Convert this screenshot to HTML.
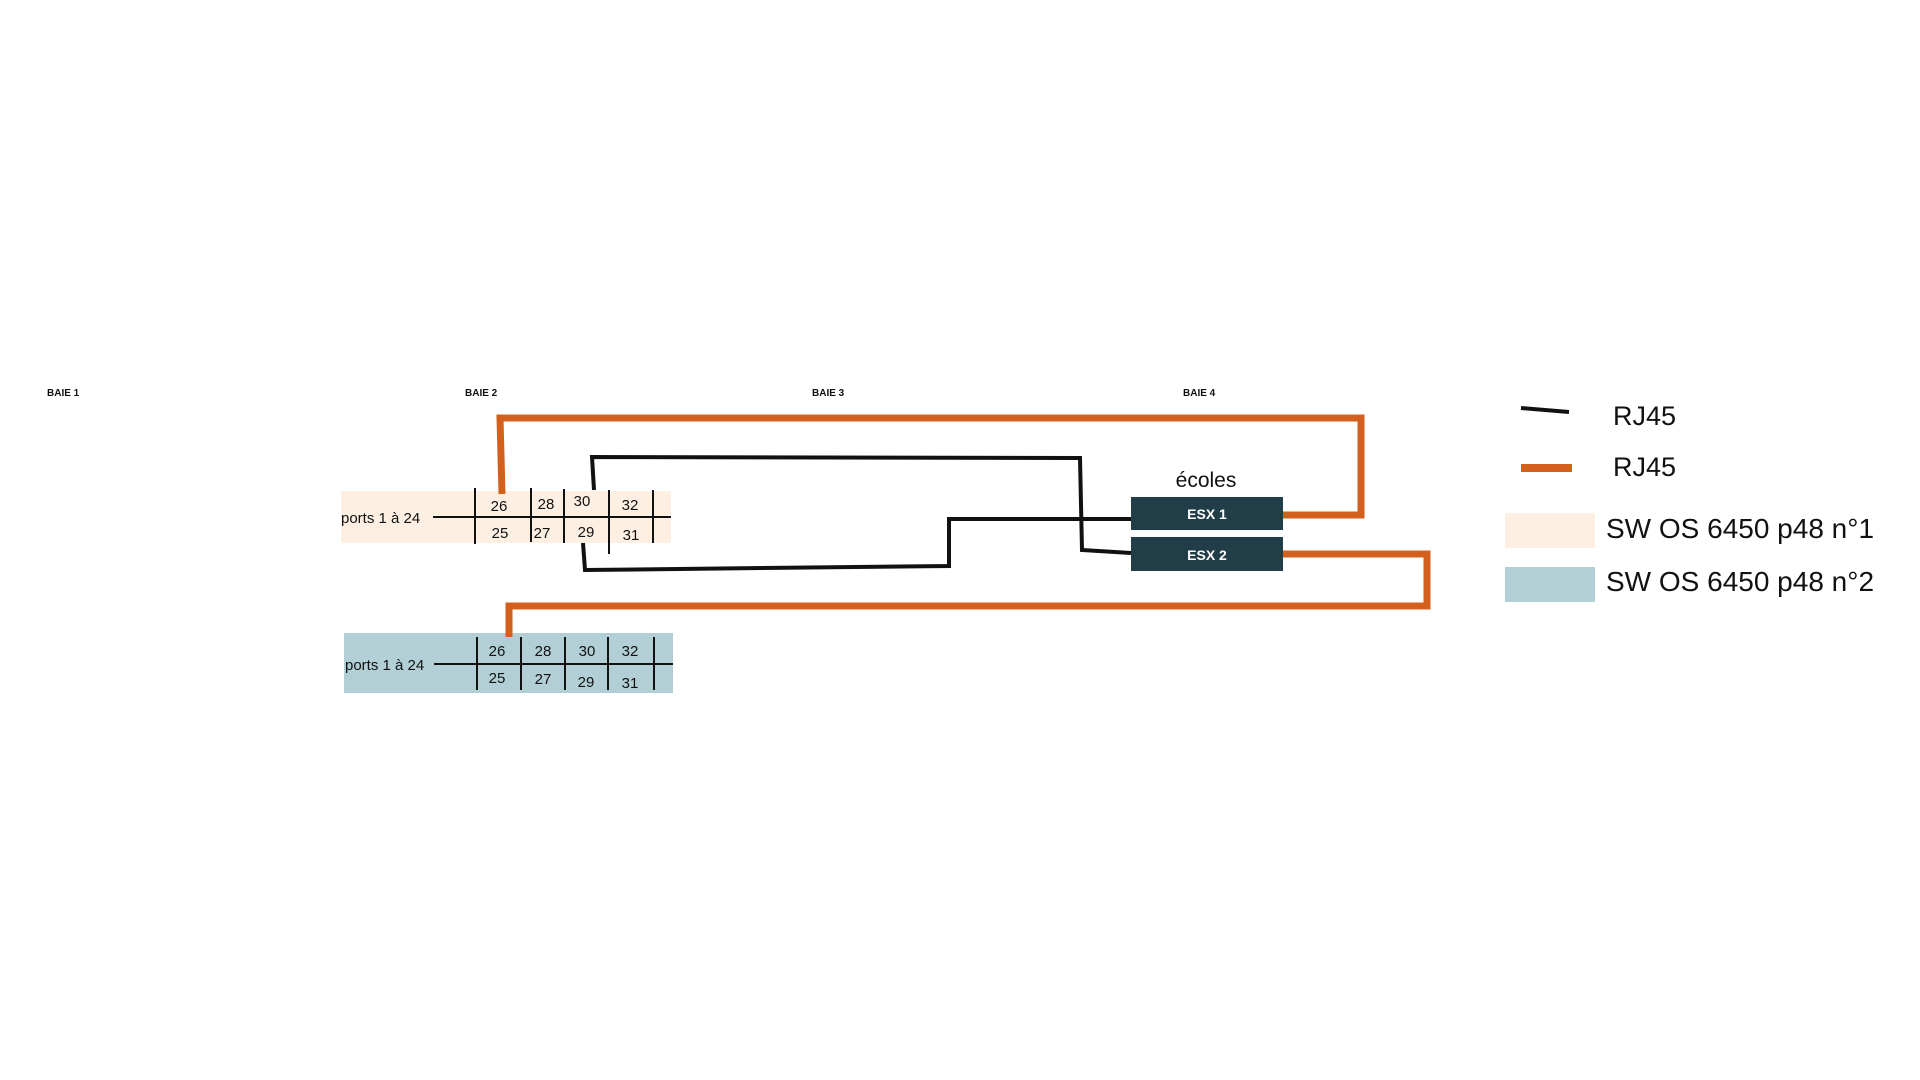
<!DOCTYPE html>
<html><head><meta charset="utf-8"><style>
html,body{margin:0;padding:0;background:#fff;width:1920px;height:1080px;overflow:hidden}
svg{display:block}
text{font-family:"Liberation Sans",sans-serif;fill:#111}
</style></head><body>
<svg width="1920" height="1080" viewBox="0 0 1920 1080">
<g font-size="10" font-weight="bold">
<text x="47" y="396">BAIE 1</text>
<text x="465" y="396">BAIE 2</text>
<text x="812" y="396">BAIE 3</text>
<text x="1183" y="396">BAIE 4</text>
</g>
<!-- switch 1 -->
<rect x="341" y="491" width="330" height="52" fill="#fdf0e2"/>
<text x="341" y="523" font-size="15">ports 1 à 24</text>
<g stroke="#111" stroke-width="2">
<line x1="433" y1="517" x2="671" y2="517"/>
<line x1="475" y1="488" x2="475" y2="544"/>
<line x1="531" y1="488" x2="531" y2="542"/>
<line x1="564" y1="489" x2="564" y2="543"/>
<line x1="609" y1="490" x2="609" y2="554"/>
<line x1="653" y1="490" x2="653" y2="543"/>
</g>
<g font-size="15" text-anchor="middle">
<text x="499" y="511">26</text><text x="546" y="509">28</text><text x="582" y="506">30</text><text x="630" y="510">32</text>
<text x="500" y="538">25</text><text x="542" y="538">27</text><text x="586" y="537">29</text><text x="631" y="540">31</text>
</g>
<!-- switch 2 -->
<rect x="344" y="633" width="329" height="60" fill="#b2cfd6"/>
<text x="345" y="670" font-size="15">ports 1 à 24</text>
<g stroke="#111" stroke-width="2">
<line x1="434" y1="664" x2="673" y2="664"/>
<line x1="477" y1="637" x2="477" y2="690"/>
<line x1="521" y1="637" x2="521" y2="690"/>
<line x1="565" y1="637" x2="565" y2="690"/>
<line x1="608" y1="637" x2="608" y2="690"/>
<line x1="654" y1="637" x2="654" y2="690"/>
</g>
<g font-size="15" text-anchor="middle">
<text x="497" y="656">26</text><text x="543" y="656">28</text><text x="587" y="656">30</text><text x="630" y="656">32</text>
<text x="497" y="683">25</text><text x="543" y="684">27</text><text x="586" y="687">29</text><text x="630" y="688">31</text>
</g>
<!-- ESX -->
<text x="1206" y="487" font-size="21" text-anchor="middle">écoles</text>
<rect x="1131" y="497" width="152" height="33" fill="#213d48"/>
<rect x="1131" y="537" width="152" height="34" fill="#213d48"/>
<text x="1207" y="519" font-size="14" font-weight="bold" text-anchor="middle" style="fill:#fff">ESX 1</text>
<text x="1207" y="560" font-size="14" font-weight="bold" text-anchor="middle" style="fill:#fff">ESX 2</text>
<!-- orange -->
<g fill="none" stroke="#d4601e" stroke-width="7">
<polyline points="502,494 500,418 1361,418 1361,515 1283,515"/>
<polyline points="1283,554 1427,554 1427,606 509,606 509,637"/>
</g>
<!-- black -->
<g fill="none" stroke="#111" stroke-width="4">
<polyline points="594,490 592,457 1080,458 1082,550 1131,553"/>
<polyline points="583,543 585,570 949,566 949,519 1131,519"/>
</g>
<!-- legend -->
<line x1="1521" y1="408" x2="1569" y2="412" stroke="#111" stroke-width="4"/>
<text x="1613" y="425" font-size="27">RJ45</text>
<line x1="1521" y1="468" x2="1572" y2="468" stroke="#d4601e" stroke-width="8"/>
<text x="1613" y="476" font-size="27">RJ45</text>
<rect x="1505" y="513" width="90" height="35" fill="#fdf0e2"/>
<text x="1606" y="538" font-size="28">SW OS 6450 p48 n°1</text>
<rect x="1505" y="567" width="90" height="35" fill="#b2cfd6"/>
<text x="1606" y="591" font-size="28">SW OS 6450 p48 n°2</text>
</svg>
</body></html>
